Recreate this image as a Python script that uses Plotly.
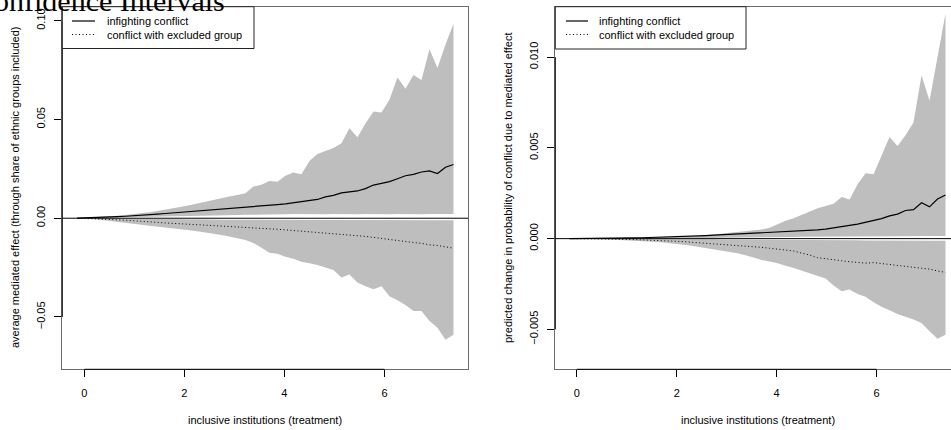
import plotly.graph_objects as go

W, H = 951, 430

# ---------------- data ----------------
treatment = [-0.14, 0.02, 0.18, 0.34, 0.50, 0.66, 0.82, 0.98, 1.14, 1.30, 1.46, 1.62,
             1.78, 1.94, 2.10, 2.26, 2.42, 2.58, 2.74, 2.90, 3.06, 3.22, 3.38, 3.54,
             3.70, 3.86, 4.02, 4.18, 4.34, 4.50, 4.66, 4.82, 4.98, 5.14, 5.30, 5.46,
             5.62, 5.78, 5.94, 6.10, 6.26, 6.42, 6.58, 6.74, 6.90, 7.06, 7.22, 7.38]

# left panel: average mediated effect
ame_infight = [0.0000, 0.0001, 0.0002, 0.0004, 0.0006, 0.0008, 0.0010, 0.0012, 0.0015, 0.0018, 0.0021, 0.0024,
               0.0027, 0.0030, 0.0033, 0.0036, 0.0039, 0.0042, 0.0045, 0.0048, 0.0051, 0.0054, 0.0057, 0.0061,
               0.0065, 0.0069, 0.0073, 0.0078, 0.0083, 0.0089, 0.0095, 0.0108, 0.0116, 0.0128, 0.0132, 0.0138,
               0.0150, 0.0168, 0.0176, 0.0185, 0.0200, 0.0215, 0.0222, 0.0234, 0.0240, 0.0226, 0.0258, 0.0272]
ame_infight_hi = [0.0000, 0.0002, 0.0004, 0.0006, 0.0010, 0.0013, 0.0016, 0.0020, 0.0025, 0.0030, 0.0037, 0.0043,
                  0.0050, 0.0058, 0.0066, 0.0075, 0.0085, 0.0095, 0.0103, 0.0110, 0.0118, 0.0126, 0.0160, 0.0170,
                  0.0188, 0.0185, 0.0215, 0.0232, 0.0222, 0.0290, 0.0325, 0.0340, 0.0355, 0.0380, 0.0455, 0.0410,
                  0.0480, 0.0540, 0.0535, 0.0600, 0.0712, 0.0655, 0.0725, 0.0700, 0.0855, 0.0760, 0.0880, 0.0985]
ame_infight_lo = [0.0000, 0.0000, 0.0000, 0.0001, 0.0001, 0.0002, 0.0002, 0.0003, 0.0004, 0.0005, 0.0006, 0.0007,
                  0.0008, 0.0009, 0.0010, 0.0011, 0.0012, 0.0013, 0.0014, 0.0015, 0.0016, 0.0017, 0.0018, 0.0019,
                  0.0019, 0.0020, 0.0020, 0.0021, 0.0020, 0.0021, 0.0021, 0.0020, 0.0021, 0.0022, 0.0021, 0.0020,
                  0.0021, 0.0022, 0.0021, 0.0020, 0.0021, 0.0022, 0.0021, 0.0020, 0.0021, 0.0022, 0.0021, 0.0021]
ame_excl = [0.0000, -0.0001, -0.0002, -0.0004, -0.0006, -0.0008, -0.0010, -0.0012, -0.0015, -0.0018, -0.0021, -0.0024,
            -0.0027, -0.0029, -0.0031, -0.0033, -0.0035, -0.0037, -0.0039, -0.0042, -0.0044, -0.0046, -0.0049, -0.0051,
            -0.0054, -0.0056, -0.0059, -0.0062, -0.0065, -0.0068, -0.0071, -0.0074, -0.0078, -0.0082, -0.0086, -0.0089,
            -0.0092, -0.0097, -0.0103, -0.0108, -0.0112, -0.0118, -0.0123, -0.0127, -0.0135, -0.0138, -0.0145, -0.0152]
ame_excl_hi = [0.0000, 0.0000, 0.0000, -0.0001, -0.0001, -0.0001, -0.0002, -0.0002, -0.0003, -0.0003, -0.0004, -0.0004,
               -0.0005, -0.0005, -0.0006, -0.0006, -0.0007, -0.0007, -0.0008, -0.0008, -0.0009, -0.0009, -0.0009, -0.0010,
               -0.0010, -0.0010, -0.0010, -0.0011, -0.0010, -0.0010, -0.0011, -0.0010, -0.0010, -0.0011, -0.0010, -0.0010,
               -0.0011, -0.0010, -0.0010, -0.0011, -0.0010, -0.0010, -0.0011, -0.0010, -0.0010, -0.0011, -0.0010, -0.0010]
ame_excl_lo = [0.0000, -0.0002, -0.0004, -0.0008, -0.0014, -0.0018, -0.0023, -0.0028, -0.0033, -0.0038, -0.0043, -0.0048,
               -0.0053, -0.0057, -0.0061, -0.0066, -0.0072, -0.0078, -0.0085, -0.0092, -0.0100, -0.0110, -0.0125, -0.0150,
               -0.0175, -0.0180, -0.0195, -0.0205, -0.0220, -0.0228, -0.0237, -0.0250, -0.0262, -0.0300, -0.0285, -0.0325,
               -0.0345, -0.0360, -0.0345, -0.0395, -0.0415, -0.0440, -0.0470, -0.0470, -0.0520, -0.0555, -0.0616, -0.0590]

# right panel: predicted change in probability of conflict
prob_infight = [0.00000, 0.00000, 0.00001, 0.00001, 0.00002, 0.00002, 0.00003, 0.00003, 0.00004, 0.00005, 0.00006, 0.00007,
                0.00008, 0.00010, 0.00011, 0.00013, 0.00015, 0.00017, 0.00019, 0.00021, 0.00023, 0.00025, 0.00027, 0.00029,
                0.00031, 0.00033, 0.00035, 0.00038, 0.00041, 0.00043, 0.00045, 0.00048, 0.00052, 0.00058, 0.00063, 0.00073,
                0.00080, 0.00090, 0.00098, 0.00110, 0.00125, 0.00135, 0.00155, 0.00160, 0.00198, 0.00175, 0.00218, 0.00240]
prob_infight_hi = [0.00000, 0.00001, 0.00001, 0.00002, 0.00002, 0.00002, 0.00002, 0.00003, 0.00003, 0.00004, 0.00005, 0.00006,
                   0.00007, 0.00008, 0.00010, 0.00012, 0.00015, 0.00019, 0.00023, 0.00027, 0.00031, 0.00035, 0.00039, 0.00044,
                   0.00050, 0.00060, 0.00080, 0.00098, 0.00112, 0.00130, 0.00150, 0.00168, 0.00180, 0.00192, 0.00230, 0.00215,
                   0.00300, 0.00360, 0.00355, 0.00460, 0.00560, 0.00510, 0.00570, 0.00640, 0.00900, 0.00760, 0.01000, 0.01240]
prob_infight_lo = [0.00000, 0.00000, 0.00000, 0.00000, 0.00000, 0.00000, 0.00000, 0.00001, 0.00001, 0.00001, 0.00001, 0.00002,
                   0.00002, 0.00002, 0.00003, 0.00003, 0.00003, 0.00004, 0.00004, 0.00005, 0.00005, 0.00006, 0.00006, 0.00007,
                   0.00007, 0.00008, 0.00008, 0.00009, 0.00009, 0.00010, 0.00010, 0.00010, 0.00011, 0.00011, 0.00011, 0.00012,
                   0.00012, 0.00012, 0.00012, 0.00013, 0.00013, 0.00013, 0.00013, 0.00013, 0.00014, 0.00013, 0.00014, 0.00014]
prob_excl = [0.00000, 0.00000, -0.00001, -0.00001, -0.00002, -0.00002, -0.00003, -0.00004, -0.00005, -0.00006, -0.00008, -0.00010,
             -0.00012, -0.00014, -0.00016, -0.00019, -0.00022, -0.00025, -0.00028, -0.00031, -0.00034, -0.00037, -0.00040, -0.00044,
             -0.00048, -0.00053, -0.00058, -0.00063, -0.00068, -0.00080, -0.00090, -0.00105, -0.00112, -0.00118, -0.00122, -0.00127,
             -0.00132, -0.00135, -0.00132, -0.00138, -0.00143, -0.00148, -0.00153, -0.00158, -0.00163, -0.00168, -0.00178, -0.00186]
prob_excl_hi = [0.00000, 0.00000, 0.00000, 0.00000, 0.00000, 0.00000, -0.00001, -0.00001, -0.00001, -0.00001, -0.00002, -0.00002,
                -0.00002, -0.00003, -0.00003, -0.00003, -0.00004, -0.00004, -0.00004, -0.00005, -0.00005, -0.00005, -0.00006, -0.00006,
                -0.00006, -0.00007, -0.00007, -0.00007, -0.00008, -0.00008, -0.00008, -0.00008, -0.00009, -0.00009, -0.00009, -0.00009,
                -0.00009, -0.00010, -0.00010, -0.00010, -0.00010, -0.00010, -0.00010, -0.00010, -0.00011, -0.00011, -0.00011, -0.00011]
prob_excl_lo = [0.00000, -0.00001, -0.00002, -0.00003, -0.00004, -0.00005, -0.00007, -0.00009, -0.00011, -0.00013, -0.00016, -0.00019,
                -0.00023, -0.00027, -0.00032, -0.00038, -0.00045, -0.00052, -0.00060, -0.00067, -0.00073, -0.00080, -0.00090, -0.00104,
                -0.00118, -0.00126, -0.00135, -0.00150, -0.00162, -0.00178, -0.00190, -0.00205, -0.00220, -0.00258, -0.00290, -0.00280,
                -0.00305, -0.00320, -0.00350, -0.00375, -0.00395, -0.00415, -0.00432, -0.00445, -0.00465, -0.00510, -0.00552, -0.00530]

x_ticks = [0, 2, 4, 6]
x_ticktext = ["0", "2", "4", "6"]
y_ticks_left = [-0.05, 0.0, 0.05, 0.10]
y_ticktext_left = ["\u22120.05", "0.00", "0.05", "0.10"]
y_ticks_right = [-0.005, 0.0, 0.005, 0.010]
y_ticktext_right = ["\u22120.005", "0.000", "0.005", "0.010"]

legend_labels = ["infighting conflict", "conflict with excluded group"]
x_title = "inclusive institutions (treatment)"
y_title_left = "average mediated effect (through share of ethnic groups included)"
y_title_right = "predicted change in probability of conflict due to mediated effect"
main_title = "Confidence Intervals"

# ---------------- styling ----------------
FONT = "Liberation Sans, Arial, Helvetica, sans-serif"
BAND = "#bebebe"
BOX = "#6a6a6a"


def px(x):
    return x / W


def py(y):
    return 1 - y / H


fig = go.Figure()


def add_panel(xa, ya, mean_a, lo_a, hi_a, mean_b, lo_b, hi_b):
    for lo, hi in ((lo_a, hi_a), (lo_b, hi_b)):
        fig.add_trace(go.Scatter(
            x=treatment + treatment[::-1], y=hi + lo[::-1],
            fill="toself", fillcolor=BAND, line=dict(width=0), mode="lines",
            hoverinfo="skip", showlegend=False, xaxis=xa, yaxis=ya))
    fig.add_trace(go.Scatter(x=treatment, y=mean_a, mode="lines",
                             line=dict(color="black", width=1.2),
                             showlegend=False, xaxis=xa, yaxis=ya))
    fig.add_trace(go.Scatter(x=treatment, y=mean_b, mode="lines",
                             line=dict(color="black", width=1, dash="1px,2.5px"),
                             showlegend=False, xaxis=xa, yaxis=ya))


add_panel("x", "y", ame_infight, ame_infight_lo, ame_infight_hi, ame_excl, ame_excl_lo, ame_excl_hi)
add_panel("x2", "y2", prob_infight, prob_infight_lo, prob_infight_hi, prob_excl, prob_excl_lo, prob_excl_hi)

y_dom = [py(369.3), py(6.7)]
axis_common = dict(showgrid=False, zeroline=False, showline=True, linecolor=BOX, linewidth=1,
                   ticks="outside", ticklen=7, tickwidth=1, tickcolor="black",
                   tickfont=dict(family=FONT, size=11, color="black"), automargin=False,
                   fixedrange=True)

fig.update_layout(
    width=W, height=H, margin=dict(l=0, r=0, t=0, b=0),
    paper_bgcolor="white", plot_bgcolor="white", showlegend=False,
    xaxis=dict(domain=[px(62.3), px(468)], range=[-0.44, 7.67], anchor="y",
               tickvals=x_ticks, ticktext=x_ticktext, mirror=True, ticklabelstandoff=6, **axis_common),
    yaxis=dict(domain=y_dom, range=[-0.0765, 0.1071], anchor="x",
               tickvals=y_ticks_left, ticktext=y_ticktext_left, tickangle=-90, mirror=True,
               ticklabelstandoff=5, **axis_common),
    xaxis2=dict(domain=[px(555.3), 1.0], range=[-0.43, 7.49], anchor="y2",
                tickvals=x_ticks, ticktext=x_ticktext, mirror=True, ticklabelstandoff=6, **axis_common),
    yaxis2=dict(domain=y_dom, range=[-0.0072, 0.01278], anchor="x2",
                tickvals=y_ticks_right, ticktext=y_ticktext_right, tickangle=-90, mirror=False,
                ticklabelstandoff=5, **axis_common),
)

shapes = []
# zero lines (abline h = 0)
for xr, yr in (("x domain", "y"), ("x2 domain", "y2")):
    shapes.append(dict(type="line", xref=xr, yref=yr, x0=0, x1=1, y0=0, y1=0,
                       line=dict(color="black", width=1), layer="above"))
# black axis segments between first and last tick
for xr, xdr, yr, ydr, yt in (("x", "x domain", "y", "y domain", y_ticks_left),
                              ("x2", "x2 domain", "y2", "y2 domain", y_ticks_right)):
    shapes.append(dict(type="line", xref=xr, yref=ydr, x0=x_ticks[0], x1=x_ticks[-1], y0=0, y1=0,
                       line=dict(color="black", width=1)))
    shapes.append(dict(type="line", xref=xdr, yref=yr, x0=0, x1=0, y0=yt[0], y1=yt[-1],
                       line=dict(color="black", width=1)))

annotations = []
# legends
for (bx0, bx1, by1, lx0, lx1, tx) in ((62.3, 254, 48.5, 72, 95, 105),
                                      (555.3, 746, 49, 566, 588, 597)):
    shapes.append(dict(type="rect", xref="paper", yref="paper", x0=px(bx0), x1=px(bx1),
                       y0=py(by1), y1=py(6.7), fillcolor="white",
                       line=dict(color="#222", width=1)))
    shapes.append(dict(type="line", xref="paper", yref="paper", x0=px(lx0), x1=px(lx1),
                       y0=py(21), y1=py(21), line=dict(color="black", width=1.2)))
    shapes.append(dict(type="line", xref="paper", yref="paper", x0=px(lx0), x1=px(lx1),
                       y0=py(34.5), y1=py(34.5), line=dict(color="black", width=1, dash="1px,2.5px")))
    for lab, yy in zip(legend_labels, (21, 34.5)):
        annotations.append(dict(text=lab, xref="paper", yref="paper", x=px(tx), y=py(yy),
                                xanchor="left", yanchor="middle", showarrow=False,
                                font=dict(family=FONT, size=11, color="black")))

# axis titles
for cx in (265, 758):
    annotations.append(dict(text=x_title, xref="paper", yref="paper", x=px(cx), y=py(420),
                            xanchor="center", yanchor="middle", showarrow=False,
                            font=dict(family=FONT, size=11, color="black")))
for cx, t in ((15, y_title_left), (508, y_title_right)):
    annotations.append(dict(text=t, xref="paper", yref="paper", x=px(cx), y=py(188),
                            xanchor="center", yanchor="middle", textangle=-90, showarrow=False,
                            font=dict(family=FONT, size=11, color="black")))

# main title (cropped at the top edge, as in the reference)
annotations.append(dict(text=main_title, xref="paper", yref="paper", x=px(227), y=py(0),
                        xanchor="right", yanchor="middle", showarrow=False,
                        font=dict(family="Liberation Serif, Times New Roman, serif", size=30, color="black")))

fig.update_layout(shapes=shapes, annotations=annotations)

fig.write_html("out.html")
